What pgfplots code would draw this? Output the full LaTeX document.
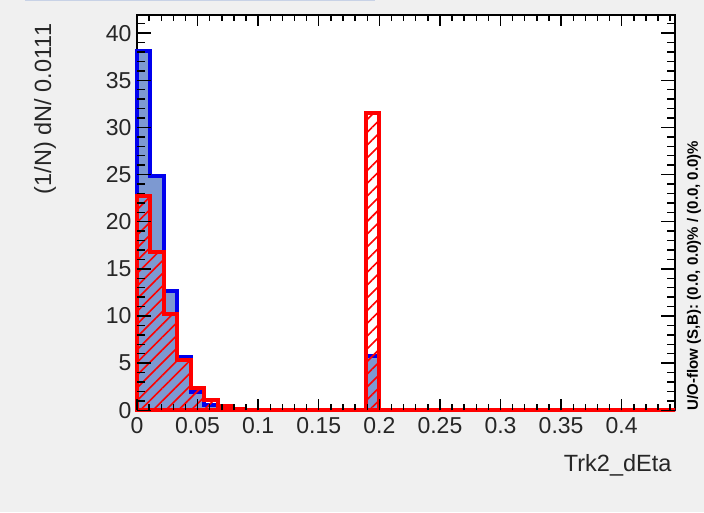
\documentclass[border=0pt]{standalone}
\usepackage{pgfplots}
\pgfplotsset{compat=1.18}
\usepackage{pgfplotstable}
\usepackage{fontspec}
\setmainfont{Liberation Sans}
\usetikzlibrary{patterns.meta}
\definecolor{bgc}{HTML}{F0F0F0}
\definecolor{sigfill}{HTML}{7D99D1}
\definecolor{sigline}{HTML}{0000EE}
\definecolor{bkgline}{HTML}{FF0000}
\definecolor{titlebox}{HTML}{C8D2E6}
\pgfplotstableread{
x s b
0.0000 38.1 22.7
0.0111 24.8 16.8
0.0222 12.7 10.2
0.0333 5.7 5.3
0.0444 1.9 2.4
0.0555 0.6 1.1
0.0666 0.2 0.45
0.0777 0.05 0.15
0.0888 0 0.05
0.0999 0 0
0.1110 0 0
0.1221 0 0
0.1332 0 0
0.1443 0 0
0.1554 0 0
0.1665 0 0
0.1776 0 0
0.1887 5.8 31.5
0.1998 0 0
0.2109 0 0
0.2220 0 0
0.2331 0 0
0.2442 0 0
0.2553 0 0
0.2664 0 0
0.2775 0 0
0.2886 0 0
0.2997 0 0
0.3108 0 0
0.3219 0 0
0.3330 0 0
0.3441 0 0
0.3552 0 0
0.3663 0 0
0.3774 0 0
0.3885 0 0
0.3996 0 0
0.4107 0 0
0.4218 0 0
0.4329 0 0
0.4440 0 0
}\histdata
% ROOT-style inward ticks on the frame (137pt..675pt) x (102pt..497pt)
\newcommand{\frameticks}{%
\foreach \i in {0,...,44}{%
  \pgfmathsetmacro{\xx}{137+\i*12.117}%
  \draw[black, line width=1.4pt] (\xx pt,102pt) -- (\xx pt,108pt);
  \draw[black, line width=1.4pt] (\xx pt,497pt) -- (\xx pt,491pt);
}%
\foreach \i in {0,...,8}{%
  \pgfmathsetmacro{\xx}{137+\i*60.586}%
  \draw[black, line width=1.4pt] (\xx pt,102pt) -- (\xx pt,113pt);
  \draw[black, line width=1.4pt] (\xx pt,497pt) -- (\xx pt,486pt);
}%
\foreach \i in {0,...,41}{%
  \pgfmathsetmacro{\yy}{102+\i*9.4272}%
  \draw[black, line width=1.4pt] (137pt,\yy pt) -- (145pt,\yy pt);
  \draw[black, line width=1.4pt] (675pt,\yy pt) -- (667pt,\yy pt);
}%
\foreach \i in {0,...,8}{%
  \pgfmathsetmacro{\yy}{102+\i*47.136}%
  \draw[black, line width=1.4pt] (137pt,\yy pt) -- (151pt,\yy pt);
  \draw[black, line width=1.4pt] (675pt,\yy pt) -- (661pt,\yy pt);
}}
\begin{document}
\begin{tikzpicture}
\fill[bgc] (0pt,0pt) rectangle (704pt,512pt);
\fill[white] (137pt,102pt) rectangle (675pt,497pt);
\draw[titlebox, line width=1.5pt] (25pt,511.5pt) -- (375pt,511.5pt);
\frameticks
\begin{axis}[
  at={(137pt,102pt)}, anchor=south west,
  scale only axis, width=538pt, height=395pt,
  xmin=0, xmax=0.444, ymin=0, ymax=41.9,
  clip=false,
  axis line style={line width=1.8pt},
  tick align=inside,
  major tick length=0pt,
  xtick={0,0.05,0.1,0.15,0.2,0.25,0.3,0.35,0.4},
  xticklabels={0,0.05,0.1,0.15,0.2,0.25,0.3,0.35,0.4},
  ytick={0,5,10,15,20,25,30,35,40},
  tick style={draw=none},
  tick label style={font=\fontsize{23}{23}\selectfont, text=black!85},
  /pgf/number format/assume math mode=true,
  xticklabel style={yshift=-4pt},
  yticklabel style={xshift=-2pt},
]
\addplot[const plot, draw=sigline, line width=4pt, fill=sigfill] table[x=x,y=s] {\histdata} \closedcycle;
\addplot[const plot, draw=bkgline, line width=4pt, pattern={Lines[angle=45,distance=9pt,line width=1.6pt]}, pattern color=bkgline] table[x=x,y=b] {\histdata} \closedcycle;
\end{axis}
\frameticks
\node[rotate=90, anchor=east, font=\fontsize{23.5}{23.5}\selectfont, text=black!85] at (45pt,492pt) {(1/N) dN/ 0.0111};
\node[anchor=east, font=\fontsize{23.5}{23.5}\selectfont, text=black!85] at (675pt,47pt) {Trk2\_dEta};
\node[rotate=90, anchor=west, font=\bfseries\fontsize{15}{15}\selectfont, inner sep=0pt] at (694pt,102pt) {U/O-flow (S,B): (0.0, 0.0)\% / (0.0, 0.0)\%};
\end{tikzpicture}
\end{document}
